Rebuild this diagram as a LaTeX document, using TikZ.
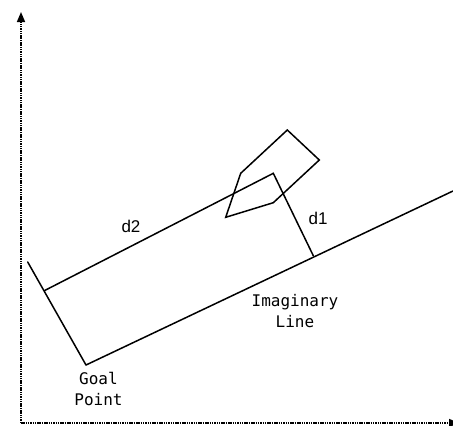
\documentclass[tikz,border=0pt]{standalone}
\usepackage{fontspec}
\setmainfont{Liberation Sans}
\newfontfamily\gmono{DejaVu Sans Mono}
\usetikzlibrary{arrows.meta}
\begin{document}
\begin{tikzpicture}[x=1pt,y=-1pt,
  seg/.style={line width=1.5pt,line cap=round,line join=miter},
  axis/.style={line width=1.5pt,dash pattern=on 1.5pt off 0.8pt,-{Triangle[length=10pt,width=8pt]}},
  lab/.style={font=\fontsize{17}{19}\selectfont,inner sep=0pt},
  mlab/.style={font=\gmono\fontsize{16}{21}\selectfont,inner sep=0pt,align=center}]
\useasboundingbox (0,0) rectangle (453,426);
% axes
\coordinate (O) at (21,423);
\coordinate (Ytop) at (21,12);
\coordinate (Xend) at (459,423);
\draw[axis] (O) -- (Ytop);
\draw[axis] (O) -- (Xend);
% points
\coordinate (G) at (86,365);
\coordinate (Lend) at (453,191);
\coordinate (Pleft) at (27.7,262);
\coordinate (F2) at (44.3,290.7);
\coordinate (C) at (273.3,173.3);
\coordinate (F1) at (313.3,255.7);
\coordinate (p1) at (240.7,173.3);
\coordinate (p2) at (287.3,130);
\coordinate (p3) at (319.3,160);
\coordinate (p4) at (273.3,202.7);
\coordinate (p5) at (225.7,217.3);
% lines
\draw[seg] (G) -- (Lend);
\draw[seg] (G) -- (Pleft);
\draw[seg] (F2) -- (C) -- (F1);
\draw[seg] (p1) -- (p2) -- (p3) -- (p4) -- (p5) -- cycle;
% labels
\node[lab] (d2) at (131,226) {d2};
\node[lab] (d1) at (318,218) {d1};
\node[mlab] (il) at (295,311) {Imaginary\\Line};
\node[mlab] (gp) at (98.5,388.5) {Goal\\Point};
\end{tikzpicture}
\end{document}
